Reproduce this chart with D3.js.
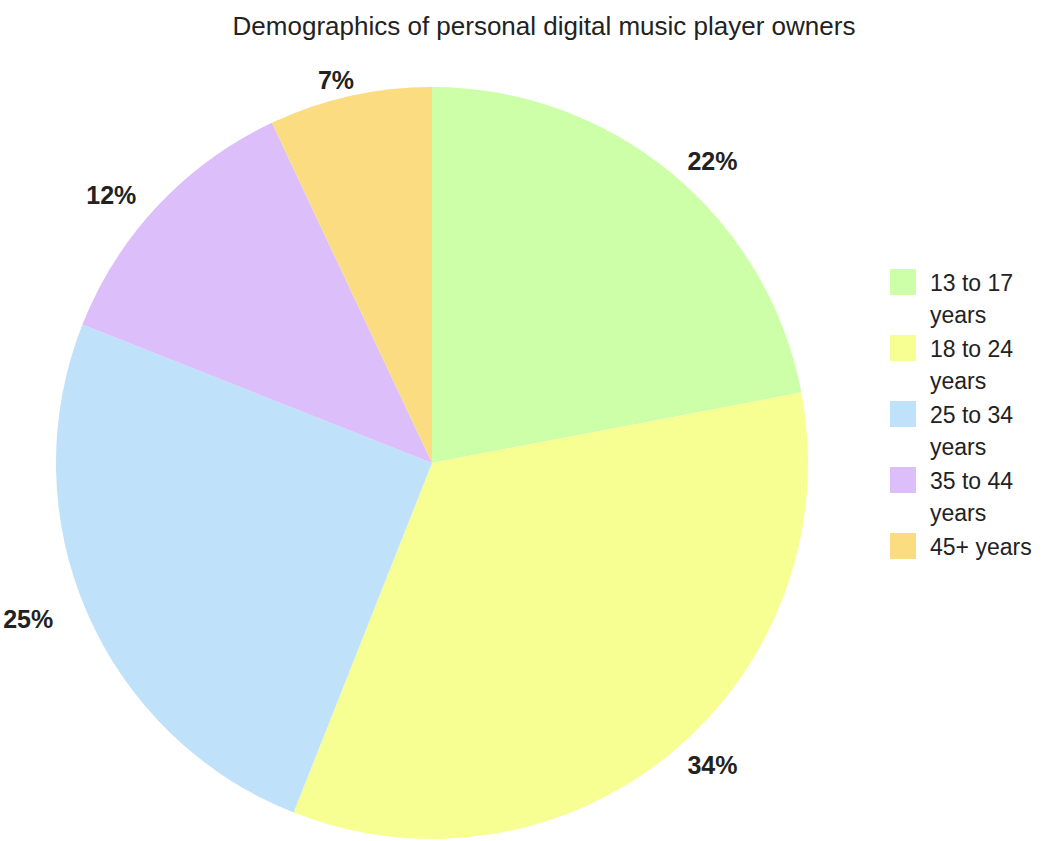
<!DOCTYPE html>
<html>
<head>
<meta charset="utf-8">
<script src="https://cdn.jsdelivr.net/npm/d3@7"></script>
<style>
  body { margin: 0; background: #fff; }
  text { font-family: "Liberation Sans", Arial, sans-serif; }
</style>
</head>
<body>
<div id="chart"></div>
<script>
// Data
const categories = ["13 to 17 years", "18 to 24 years", "25 to 34 years", "35 to 44 years", "45+ years"];
const values = [22, 34, 25, 12, 7];
const colors = ["#ccffa8", "#f8ff92", "#c0e1fa", "#dcbefa", "#fcdc80"];
const legendLines = [["13 to 17", "years"], ["18 to 24", "years"], ["25 to 34", "years"], ["35 to 44", "years"], ["45+ years"]];

const width = 1052, height = 841;
const cx = 432, cy = 463, radius = 376;

const svg = d3.select("#chart").append("svg")
    .attr("width", width)
    .attr("height", height);

// Title
svg.append("text")
    .attr("x", 544)
    .attr("y", 35)
    .attr("text-anchor", "middle")
    .style("font-size", "26px")
    .style("fill", "#222")
    .text("Demographics of personal digital music player owners");

const color = d3.scaleOrdinal().domain(categories).range(colors);

const pie = d3.pie().sort(null).value(d => d.value);
const arc = d3.arc().innerRadius(0).outerRadius(radius);

const data = categories.map((c, i) => ({name: c, value: values[i]}));
const arcs = pie(data);

const g = svg.append("g").attr("transform", "translate(" + cx + "," + cy + ")");

g.selectAll("path")
    .data(arcs)
    .enter().append("path")
    .attr("d", arc)
    .style("fill", d => color(d.data.name));

// Percentage labels outside the pie
const total = d3.sum(values);
const labelX = 440, labelY = 392;
g.selectAll(".label")
    .data(arcs)
    .enter().append("text")
    .attr("class", "label")
    .attr("x", d => labelX * Math.sin((d.startAngle + d.endAngle) / 2))
    .attr("y", d => -labelY * Math.cos((d.startAngle + d.endAngle) / 2))
    .attr("dy", "0.36em")
    .attr("text-anchor", "middle")
    .style("font-size", "25px")
    .style("font-weight", "bold")
    .style("fill", "#222")
    .text(d => Math.round(d.data.value / total * 100) + "%");

// Legend
const legend = svg.append("g").attr("transform", "translate(890,269)");
let yOff = 0;
categories.forEach((c, i) => {
    const item = legend.append("g").attr("transform", "translate(0," + yOff + ")");
    item.append("rect")
        .attr("width", 26)
        .attr("height", 26)
        .style("fill", color(c));
    legendLines[i].forEach((line, j) => {
        item.append("text")
            .attr("x", 40)
            .attr("y", 22 + j * 32)
            .style("font-size", "23px")
            .style("fill", "#222")
            .text(line);
    });
    yOff += 66;
});
</script>
</body>
</html>
